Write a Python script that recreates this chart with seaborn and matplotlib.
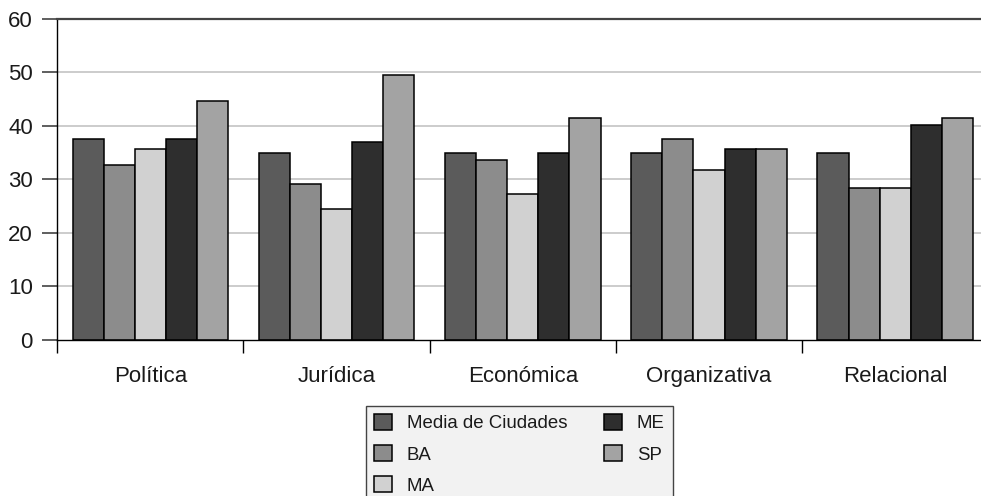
import matplotlib
matplotlib.use("Agg")
import matplotlib.pyplot as plt
import seaborn as sns
import pandas as pd

# Dimensions of the analysis and the series compared within each one
categories = ["Política", "Jurídica", "Económica", "Organizativa", "Relacional"]
series = ["Media de Ciudades", "BA", "MA", "ME", "SP"]

media = [37.5, 35.0, 35.0, 35.0, 35.0]
ba = [32.6, 29.1, 33.6, 37.5, 28.4]
ma = [35.7, 24.4, 27.3, 31.8, 28.4]
me = [37.5, 36.9, 35.0, 35.7, 40.1]
sp = [44.7, 49.5, 41.5, 35.7, 41.5]

y_ticks = [0, 10, 20, 30, 40, 50, 60]

colors = ["#5b5b5b", "#8c8c8c", "#d1d1d1", "#2e2e2e", "#a3a3a3"]

rows = []
for name, vals in zip(series, [media, ba, ma, me, sp]):
    for cat, v in zip(categories, vals):
        rows.append({"Dimensión": cat, "Serie": name, "Valor": v})
df = pd.DataFrame(rows)

sns.set_theme(style="white")
plt.rcParams["font.family"] = ["Liberation Sans", "DejaVu Sans"]
plt.rcParams["font.size"] = 13

fig = plt.figure(figsize=(9.81, 4.96), dpi=100)
ax = fig.add_axes([57.3 / 981, (496 - 339.7) / 496, 931 / 981, (339.7 - 19) / 496])

sns.barplot(data=df, x="Dimensión", y="Valor", hue="Serie", order=categories,
            hue_order=series, palette=colors, width=0.835, edgecolor="black",
            linewidth=1.1, saturation=1, ax=ax, zorder=3)

ax.set_xlim(-0.5, len(categories) - 0.5)
ax.set_ylim(0, 60)
ax.set_xlabel("")
ax.set_ylabel("")

# horizontal gridlines
ax.set_yticks(y_ticks)
ax.set_yticklabels([str(t) for t in y_ticks])
for t in y_ticks[1:-1]:
    ax.axhline(t, color="#cccccc", linewidth=1.4, zorder=1)

# group separators as major ticks, labels centred on minor ticks
ax.set_xticks([i - 0.5 for i in range(len(categories))])
ax.set_xticklabels([])
ax.set_xticks(range(len(categories)), minor=True)
ax.set_xticklabels(categories, minor=True)
ax.tick_params(axis="x", which="major", direction="out", length=9.5, width=1,
               color="black", bottom=True)
ax.tick_params(axis="x", which="minor", length=0, pad=19, labelsize=16,
               labelcolor="#1a1a1a")
ax.tick_params(axis="y", direction="out", length=11, width=1.1, color="#333333",
               pad=6.5, labelsize=16, labelcolor="#1a1a1a", left=True)

for side in ["right"]:
    ax.spines[side].set_visible(False)
ax.spines["top"].set_color("#444444")
ax.spines["top"].set_linewidth(1.6)
ax.spines["left"].set_color("black")
ax.spines["left"].set_linewidth(1.0)
ax.spines["bottom"].set_color("black")
ax.spines["bottom"].set_linewidth(1.0)
ax.spines["bottom"].set_zorder(4)

handles, labels = ax.get_legend_handles_labels()
ax.get_legend().remove()
leg = fig.legend(handles, labels, loc="upper center",
                 bbox_to_anchor=(519.5 / 981, (496 - 405.7) / 496),
                 ncol=2, frameon=True, fancybox=False, shadow=False,
                 fontsize=13.4, handlelength=0.95, handleheight=0.95,
                 handletextpad=0.8, labelspacing=0.68, columnspacing=2.0,
                 borderpad=0.45, borderaxespad=0)
frame = leg.get_frame()
frame.set_facecolor("#f2f2f2")
frame.set_edgecolor("#444444")
frame.set_linewidth(1.0)
frame.set_alpha(1)
for txt in leg.get_texts():
    txt.set_color("#1a1a1a")

fig.savefig("out.png", dpi=100)
